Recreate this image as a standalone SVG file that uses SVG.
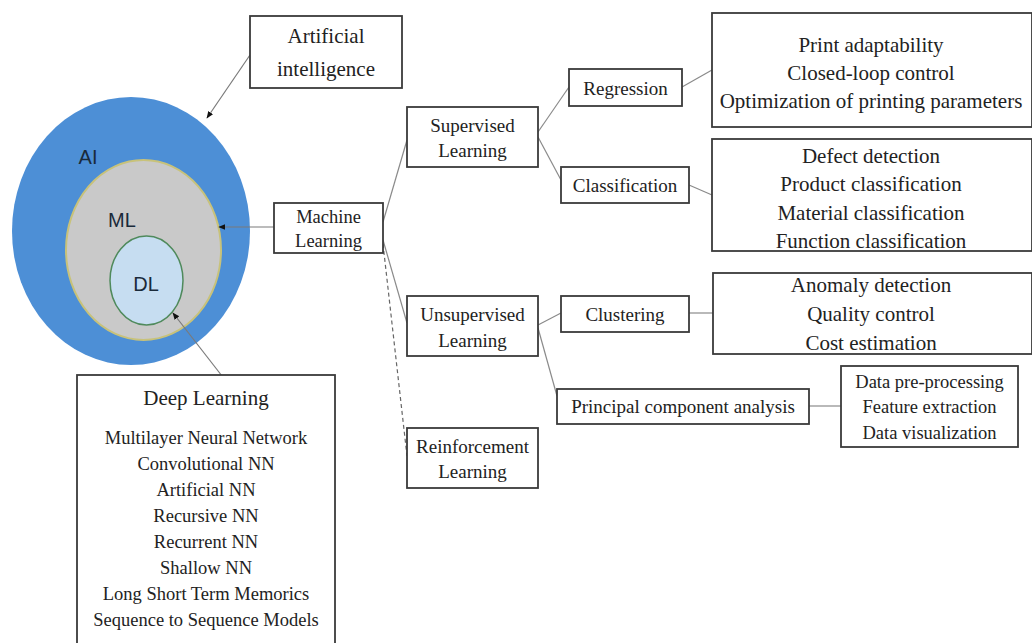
<svg xmlns="http://www.w3.org/2000/svg" width="1032" height="643" viewBox="0 0 1032 643">
  <defs>
    <style>
      .box { fill: #ffffff; stroke: #3a3a3a; stroke-width: 1.8; }
      .t { font-family: "Liberation Serif", "Times New Roman", serif; fill: #222222; text-anchor: middle; }
      .s19 { font-size: 19px; }
      .s18 { font-size: 18.5px; }
      .s21 { font-size: 21px; }
      .sans { font-family: "Liberation Sans", Arial, sans-serif; font-size: 20px; fill: #1a2a3a; text-anchor: middle; }
      .link { stroke: #8a8a8a; stroke-width: 1.2; fill: none; }
      .dash { stroke: #666666; stroke-width: 1.2; fill: none; stroke-dasharray: 4 3; }
      .ptr { stroke: #7a7a7a; stroke-width: 1.2; fill: none; marker-end: url(#head); }
    </style>
    <marker id="head" viewBox="0 0 10 10" refX="9" refY="5" markerWidth="6" markerHeight="6" orient="auto">
      <path d="M0,1 L10,5 L0,9 z" fill="#111111"/>
    </marker>
  </defs>

  <rect width="1032" height="643" fill="#ffffff"/>

  <!-- Nested sets: AI contains ML contains DL -->
  <g id="venn">
    <ellipse cx="131" cy="231" rx="119" ry="134" fill="#4d8fd6"/>
    <ellipse cx="143.5" cy="250" rx="77.5" ry="90" fill="#c9c9c9" stroke="#c8c27a" stroke-width="2"/>
    <ellipse cx="146.5" cy="280.5" rx="36.5" ry="44.5" fill="#c6ddf1" stroke="#4f8a5c" stroke-width="1.5"/>
    <text class="sans" x="88" y="164">AI</text>
    <text class="sans" x="122" y="227">ML</text>
    <text class="sans" x="146" y="291">DL</text>
  </g>

  <!-- Connectors -->
  <g id="connectors">
    <line class="ptr" x1="250" y1="55" x2="207" y2="118"/>
    <line class="ptr" x1="274" y1="227" x2="219" y2="227"/>
    <line class="ptr" x1="222" y1="376" x2="173" y2="313"/>
    <line class="link" x1="383" y1="222" x2="407" y2="140"/>
    <line class="link" x1="383" y1="240" x2="407" y2="323"/>
    <line class="dash" x1="383" y1="244" x2="407" y2="456"/>
    <line class="link" x1="538" y1="132" x2="569" y2="87"/>
    <line class="link" x1="538" y1="137" x2="561" y2="180"/>
    <line class="link" x1="682" y1="87" x2="712" y2="70"/>
    <line class="link" x1="689" y1="185" x2="712" y2="195"/>
    <line class="link" x1="538" y1="325" x2="561" y2="313"/>
    <line class="link" x1="538" y1="328" x2="557" y2="396"/>
    <line class="link" x1="689" y1="313" x2="713" y2="313"/>
    <line class="link" x1="809" y1="406" x2="841" y2="406"/>
  </g>

  <g id="artificial-intelligence">
    <rect class="box" x="250" y="16" width="152" height="72"/>
    <text class="t s21" x="326" y="43">Artificial</text>
    <text class="t s21" x="326" y="76">intelligence</text>
  </g>

  <g id="machine-learning">
    <rect class="box" x="274" y="203" width="109" height="50"/>
    <text class="t s18" x="328.5" y="223">Machine</text>
    <text class="t s18" x="328.5" y="247">Learning</text>
  </g>

  <g id="deep-learning">
    <rect class="box" x="77" y="375" width="258" height="275"/>
    <text class="t s21" x="206" y="405">Deep Learning</text>
    <text class="t s18" x="206" y="444">Multilayer Neural Network</text>
    <text class="t s18" x="206" y="470">Convolutional NN</text>
    <text class="t s18" x="206" y="496">Artificial NN</text>
    <text class="t s18" x="206" y="522">Recursive NN</text>
    <text class="t s18" x="206" y="548">Recurrent NN</text>
    <text class="t s18" x="206" y="574">Shallow NN</text>
    <text class="t s18" x="206" y="600">Long Short Term Memorics</text>
    <text class="t s18" x="206" y="626">Sequence to Sequence Models</text>
  </g>

  <g id="supervised">
    <rect class="box" x="407" y="107" width="131" height="60"/>
    <text class="t s19" x="472.5" y="132">Supervised</text>
    <text class="t s19" x="472.5" y="157">Learning</text>
  </g>

  <g id="unsupervised">
    <rect class="box" x="407" y="296" width="131" height="60"/>
    <text class="t s19" x="472.5" y="321">Unsupervised</text>
    <text class="t s19" x="472.5" y="347">Learning</text>
  </g>

  <g id="reinforcement">
    <rect class="box" x="407" y="428" width="131" height="60"/>
    <text class="t s19" x="472.5" y="453">Reinforcement</text>
    <text class="t s19" x="472.5" y="478">Learning</text>
  </g>

  <g id="regression">
    <rect class="box" x="569" y="69" width="113" height="37"/>
    <text class="t s19" x="625.5" y="95">Regression</text>
  </g>

  <g id="classification">
    <rect class="box" x="561" y="167" width="128" height="36"/>
    <text class="t s19" x="625" y="192">Classification</text>
  </g>

  <g id="clustering">
    <rect class="box" x="561" y="296" width="128" height="36"/>
    <text class="t s19" x="625" y="321">Clustering</text>
  </g>

  <g id="pca">
    <rect class="box" x="557" y="389" width="252" height="35"/>
    <text class="t s19" x="683" y="413">Principal component analysis</text>
  </g>

  <g id="regression-uses">
    <rect class="box" x="712" y="13" width="320" height="114"/>
    <text class="t s21" x="871" y="52">Print adaptability</text>
    <text class="t s21" x="871" y="80">Closed-loop control</text>
    <text class="t s21" x="871" y="108">Optimization of printing parameters</text>
  </g>

  <g id="classification-uses">
    <rect class="box" x="712" y="139" width="320" height="112"/>
    <text class="t s21" x="871" y="163">Defect detection</text>
    <text class="t s21" x="871" y="191">Product classification</text>
    <text class="t s21" x="871" y="220">Material classification</text>
    <text class="t s21" x="871" y="248">Function classification</text>
  </g>

  <g id="clustering-uses">
    <rect class="box" x="713" y="273" width="319" height="81"/>
    <text class="t s21" x="871" y="292">Anomaly detection</text>
    <text class="t s21" x="871" y="321">Quality control</text>
    <text class="t s21" x="871" y="350">Cost estimation</text>
  </g>

  <g id="pca-uses">
    <rect class="box" x="841" y="366" width="177" height="81"/>
    <text class="t s18" x="929.5" y="388">Data pre-processing</text>
    <text class="t s18" x="929.5" y="413">Feature extraction</text>
    <text class="t s18" x="929.5" y="439">Data visualization</text>
  </g>
</svg>
